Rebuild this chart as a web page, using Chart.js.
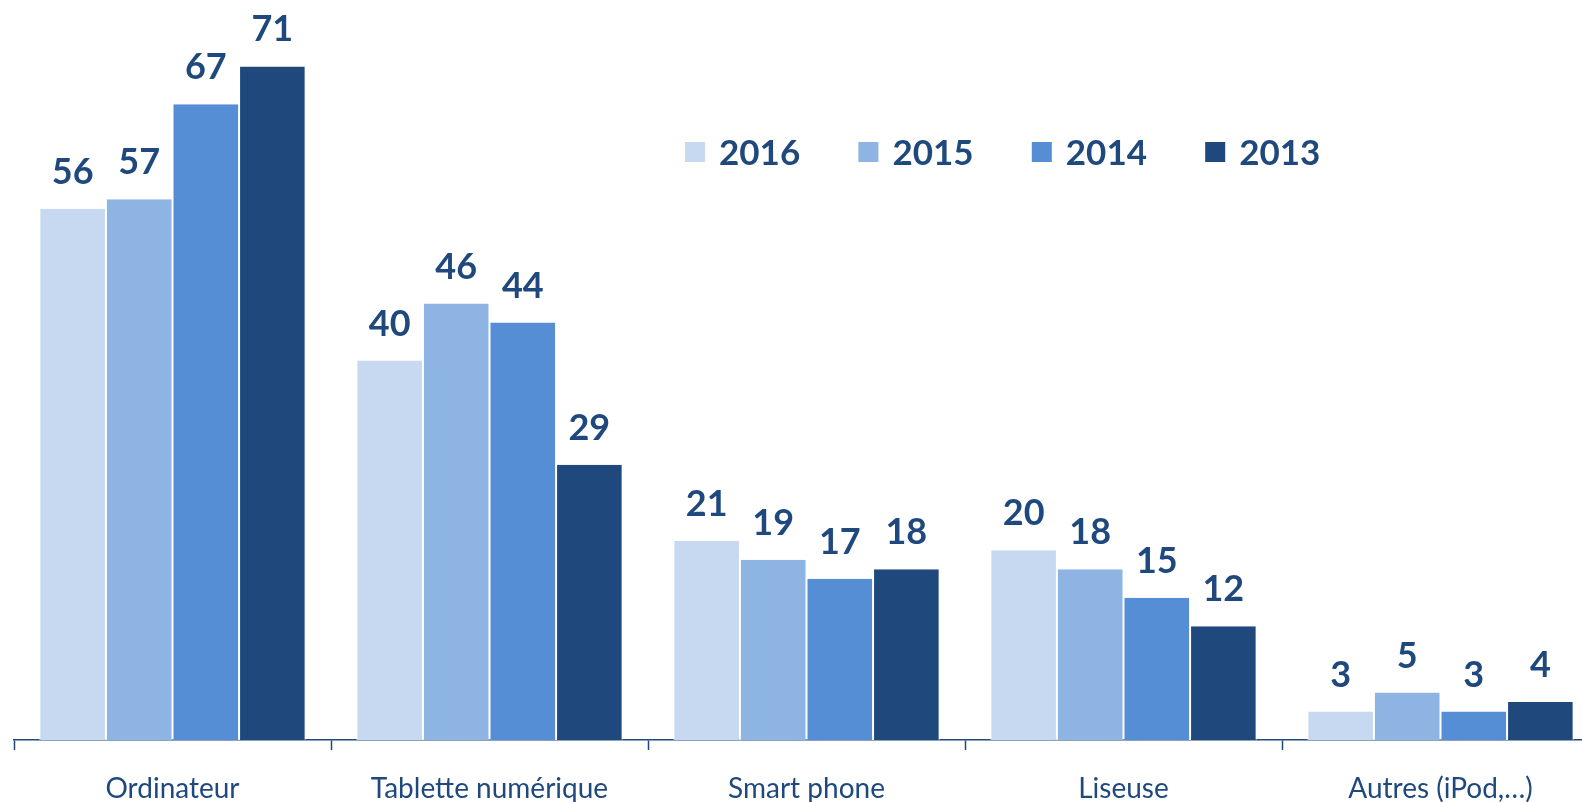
<!DOCTYPE html>
<html>
<head>
<meta charset="utf-8">
<script src="https://cdn.jsdelivr.net/npm/chart.js@4.4.1/dist/chart.umd.min.js"></script>
<style>
  html, body { margin: 0; padding: 0; overflow: hidden; background: #ffffff; width: 1582px; height: 802px; }
  #wrap { position: absolute; left: 0; top: 0; width: 1600px; height: 802px; }
</style>
</head>
<body>
<div id="wrap"><canvas id="c"></canvas></div>
<script>
const categories = ['Ordinateur', 'Tablette numérique', 'Smart phone', 'Liseuse', 'Autres (iPod,…)'];
const seriesNames = ['2016', '2015', '2014', '2013'];
const values2016 = [56, 40, 21, 20, 3];
const values2015 = [57, 46, 19, 18, 5];
const values2014 = [67, 44, 17, 15, 3];
const values2013 = [71, 29, 18, 12, 4];
const seriesColors = ['#C6D9F1', '#8EB4E3', '#558ED5', '#1F497D'];
const textColor = '#1F497D';

const allValues = [values2016, values2015, values2014, values2013];

const datasets = seriesNames.map((name, i) => ({
  label: name,
  data: allValues[i],
  backgroundColor: seriesColors[i],
  borderColor: '#ffffff',
  borderWidth: { left: 1, right: 1, top: 0, bottom: 0 },
  borderSkipped: false,
  categoryPercentage: 0.84,
  barPercentage: 1.0
}));

const valueLabels = {
  id: 'valueLabels',
  afterDatasetsDraw(chart) {
    const ctx = chart.ctx;
    ctx.save();
    ctx.font = 'bold 36px Lato';
    ctx.fillStyle = textColor;
    ctx.textAlign = 'center';
    ctx.textBaseline = 'alphabetic';
    chart.data.datasets.forEach((ds, di) => {
      const meta = chart.getDatasetMeta(di);
      meta.data.forEach((bar, j) => {
        ctx.fillText(String(ds.data[j]), bar.x, bar.y - 25);
      });
    });
    ctx.restore();
  }
};

const customLegend = {
  id: 'customLegend',
  afterDraw(chart) {
    const ctx = chart.ctx;
    ctx.save();
    const startX = 685, step = 173.4, boxTop = 142, box = 20;
    ctx.font = 'bold 35px Lato';
    ctx.textAlign = 'left';
    ctx.textBaseline = 'alphabetic';
    chart.data.datasets.forEach((ds, i) => {
      const x = startX + i * step;
      ctx.fillStyle = ds.backgroundColor;
      ctx.fillRect(x, boxTop, box, box);
      ctx.fillStyle = textColor;
      ctx.fillText(ds.label, x + 34, 165);
    });
    ctx.restore();
  }
};

new Chart(document.getElementById('c'), {
  type: 'bar',
  data: { labels: categories, datasets: datasets },
  options: {
    responsive: true,
    maintainAspectRatio: false,
    animation: false,
    layout: { padding: { left: 14, right: 1, top: 0, bottom: 0 } },
    plugins: {
      legend: { display: false },
      tooltip: { enabled: false }
    },
    scales: {
      y: {
        display: false,
        min: 0,
        max: 78
      },
      x: {
        offset: true,
        afterFit(scale) { scale.height = 62; },
        border: { display: true, color: '#1F497D', width: 1.5 },
        grid: {
          offset: true,
          drawOnChartArea: false,
          drawTicks: true,
          tickLength: 10,
          tickWidth: 1.5,
          tickColor: '#1F497D',
          color: '#1F497D'
        },
        ticks: {
          color: textColor,
          font: { family: 'Lato', size: 28 },
          padding: 22,
          maxRotation: 0,
          autoSkip: false
        }
      }
    }
  },
  plugins: [valueLabels, customLegend]
});
</script>
</body>
</html>
